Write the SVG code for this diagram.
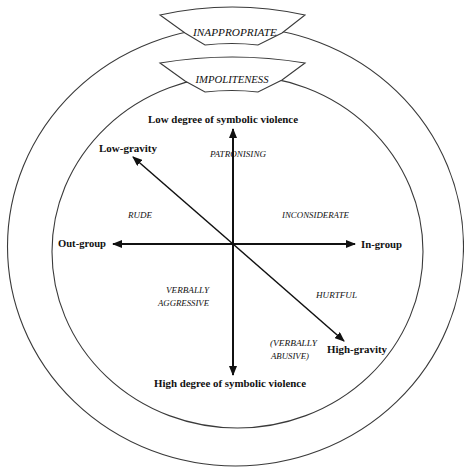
<svg xmlns="http://www.w3.org/2000/svg" width="464" height="467" viewBox="0 0 464 467">
<style>
.ring{fill:none;stroke:#3a3a3a;stroke-width:1.1}
.banner{fill:#fff;stroke:#3a3a3a;stroke-width:1.1;stroke-linejoin:miter}
.axis{stroke:#111;stroke-width:2;fill:none}
.diag{stroke:#111;stroke-width:1.5;fill:none}
.b{font-family:"Liberation Serif",serif;font-weight:bold;font-size:11px;fill:#111}
.i{font-family:"Liberation Serif",serif;font-style:italic;font-size:9px;fill:#111}
.bi{font-family:"Liberation Serif",serif;font-style:italic;font-size:11px;fill:#111}
</style>
<defs>
<marker id="ah" viewBox="0 0 10 8" refX="9" refY="4" markerWidth="10" markerHeight="8" markerUnits="userSpaceOnUse" orient="auto">
<path d="M0,0 L10,4 L0,8 Z" fill="#111"/>
</marker>
</defs>
<rect width="464" height="467" fill="#fff"/>
<g id="outer-ring">
<ellipse class="ring" cx="235.5" cy="246.5" rx="228" ry="219.5"/>
</g>
<g id="inappropriate">
<path class="banner" d="M160,15 Q232,-1 305,15 L282,33 L258,45 Q232,42 205,45 L185,33 Z"/>
<text class="bi" x="235" y="36" text-anchor="middle" textLength="84" lengthAdjust="spacingAndGlyphs">INAPPROPRIATE</text>
</g>
<g id="inner-ring">
<ellipse class="ring" cx="237.5" cy="251.7" rx="185.5" ry="176.3"/>
</g>
<g id="impoliteness">
<path class="banner" d="M160,63 Q232,51 305,63 L282,80 L258,92 Q232,89 205,92 L185,81 Z"/>
<text class="bi" x="232" y="83" text-anchor="middle" textLength="73" lengthAdjust="spacingAndGlyphs">IMPOLITENESS</text>
</g>
<g id="connectors">
<line class="axis" x1="233" y1="244" x2="113" y2="244" marker-end="url(#ah)"/>
<line class="axis" x1="233" y1="244" x2="355" y2="244" marker-end="url(#ah)"/>
<line class="axis" x1="233" y1="244" x2="233" y2="129" marker-end="url(#ah)"/>
<line class="axis" x1="233" y1="244" x2="233" y2="375" marker-end="url(#ah)"/>
<line class="diag" x1="233" y1="244" x2="133" y2="157" marker-end="url(#ah)"/>
<line class="diag" x1="233" y1="244" x2="344" y2="341" marker-end="url(#ah)"/>
</g>
<g id="low-degree"><text class="b" x="223" y="123" text-anchor="middle" textLength="150" lengthAdjust="spacingAndGlyphs">Low degree of symbolic violence</text></g>
<g id="high-degree"><text class="b" x="230" y="387" text-anchor="middle" textLength="152" lengthAdjust="spacingAndGlyphs">High degree of symbolic violence</text></g>
<g id="low-gravity"><text class="b" x="99" y="152" textLength="58" lengthAdjust="spacingAndGlyphs">Low-gravity</text></g>
<g id="high-gravity"><text class="b" x="327" y="353" textLength="60" lengthAdjust="spacingAndGlyphs">High-gravity</text></g>
<g id="out-group"><text class="b" x="58" y="247" textLength="48" lengthAdjust="spacingAndGlyphs">Out-group</text></g>
<g id="in-group"><text class="b" x="361" y="248" textLength="41" lengthAdjust="spacingAndGlyphs">In-group</text></g>
<g id="patronising"><text class="i" x="210" y="157" textLength="56" lengthAdjust="spacingAndGlyphs">PATRONISING</text></g>
<g id="rude"><text class="i" x="128" y="218" textLength="24" lengthAdjust="spacingAndGlyphs">RUDE</text></g>
<g id="inconsiderate"><text class="i" x="282" y="218" textLength="67" lengthAdjust="spacingAndGlyphs">INCONSIDERATE</text></g>
<g id="verbally-aggressive">
<text class="i" x="209" y="293" text-anchor="end" textLength="43" lengthAdjust="spacingAndGlyphs">VERBALLY</text>
<text class="i" x="209" y="306" text-anchor="end" textLength="51" lengthAdjust="spacingAndGlyphs">AGGRESSIVE</text>
</g>
<g id="hurtful"><text class="i" x="316" y="298" textLength="41" lengthAdjust="spacingAndGlyphs">HURTFUL</text></g>
<g id="verbally-abusive">
<text class="i" x="270" y="346" textLength="47" lengthAdjust="spacingAndGlyphs">(VERBALLY</text>
<text class="i" x="271" y="359" textLength="38" lengthAdjust="spacingAndGlyphs">ABUSIVE)</text>
</g>
</svg>
